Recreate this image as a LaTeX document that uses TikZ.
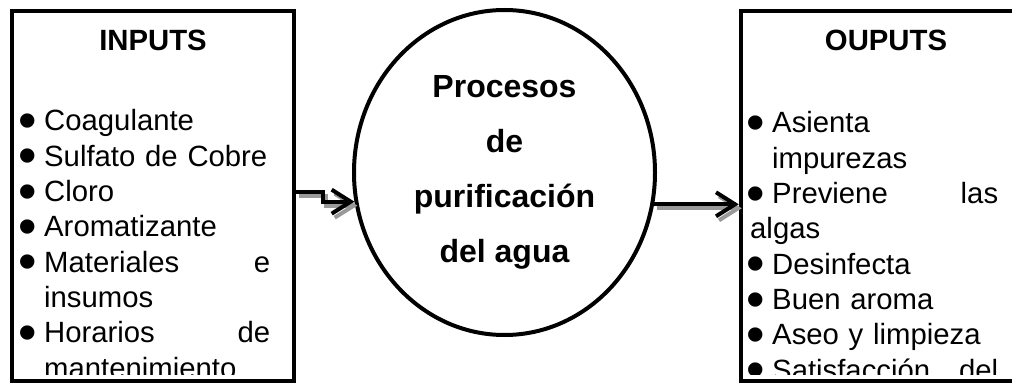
\documentclass[tikz,border=0pt]{standalone}
\usepackage{fontspec}
\setmainfont{Liberation Sans}
\usepackage{graphicx}
\usetikzlibrary{arrows.meta, positioning, calc, shapes.geometric}
\newcommand{\punto}{\makebox[22pt][l]{\hspace*{-4pt}\raisebox{-0.26em}{\scalebox{1.8}{\textbullet}}}}
\newcommand{\sangria}{\hspace*{22pt}}

\begin{document}
\begin{tikzpicture}[
    x=1pt, y=-1pt,
    every node/.style={font=\fontsize{29.3}{35.3}\selectfont},
    caja/.style={draw, rectangle, line width=4.5pt, minimum width=282pt, minimum height=370pt},
    titulo/.style={anchor=base, font=\bfseries\fontsize{29.3}{35.3}\selectfont},
    lista/.style={anchor=base west, inner sep=0pt, text width=248pt, align=left},
    proceso/.style={draw, ellipse, line width=4pt, minimum width=301pt, minimum height=325pt, align=center, font=\bfseries\fontsize{32}{55}\selectfont},
    flecha/.style={line width=4pt, -{Straight Barb[length=19pt, width=24pt]}},
    sombra/.style={flecha, draw=black!40, transform canvas={shift={(3pt,-4pt)}}}
    ]
    \useasboundingbox (0,0) rectangle (1012,385);
    \node[caja] (izq) at (153,196) {};
    \node[caja, minimum width=290pt] (der) at (886,196) {};
    \node[proceso] (proc) at (504.5,172.5) {Procesos\\de\\purificación\\del agua};
    \begin{scope}
        \clip (14,13) rectangle (292,374);
        \node[titulo] (tit-in) at (153,51) {INPUTS};
        \node[lista] (entradas) at (22,131) {\punto Coagulante\\
            \punto Sulfato de Cobre\\
            \punto Cloro\\
            \punto Aromatizante\\
            \punto Materiales\hfill e\\
            \sangria insumos\\
            \punto Horarios\hfill de\\
            \sangria mantenimiento};
    \end{scope}
    \begin{scope}
        \clip (743,13) rectangle (1012,374);
        \node[titulo] (tit-out) at (886,51) {OUPUTS};
        \node[lista] (salidas) at (750,133) {\punto Asienta\\
            \sangria impurezas\\
            \punto Previene\hfill las\\
            algas\\
            \punto Desinfecta\\
            \punto Buen aroma\\
            \punto Aseo y limpieza\\
            \punto Satisfacción\hfill del};
    \end{scope}
    \draw[sombra] ([yshift=4.5pt]izq.east) -- ++(27,0) |- (proc.191.6);
    \draw[flecha] ([yshift=4.5pt]izq.east) -- ++(27,0) |- (proc.191.6);
    \draw[sombra] (proc.348.4) -- (proc.348.4 -| der.west);
    \draw[flecha] (proc.348.4) -- (proc.348.4 -| der.west);
\end{tikzpicture}
\end{document}
